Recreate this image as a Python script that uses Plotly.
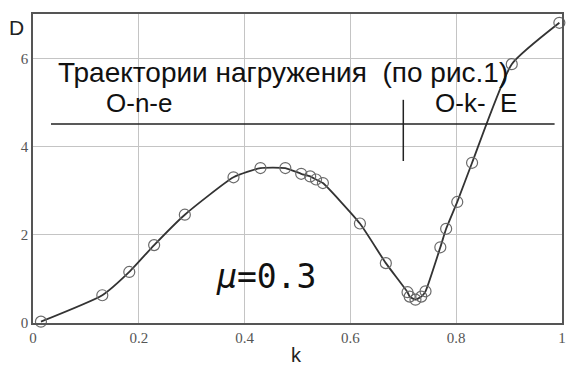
import plotly.graph_objects as go

k_vals = [0.015, 0.131, 0.182, 0.229, 0.287, 0.379, 0.430, 0.477, 0.507, 0.524, 0.535, 0.548,
          0.618, 0.667, 0.708, 0.712, 0.723, 0.734, 0.742, 0.770, 0.781, 0.802, 0.830, 0.905, 0.995]
D_vals = [0.03, 0.63, 1.16, 1.77, 2.46, 3.31, 3.52, 3.52, 3.39, 3.33, 3.26, 3.18,
          2.26, 1.36, 0.70, 0.60, 0.53, 0.60, 0.72, 1.72, 2.14, 2.75, 3.64, 5.88, 6.82]

x_ticks = [0, 0.2, 0.4, 0.6, 0.8, 1]
x_tick_labels = ["0", "0.2", "0.4", "0.6", "0.8", "1"]
y_ticks = [0, 2, 4, 6]
y_tick_labels = ["0", "2", "4", "6"]

title_text = "Траектории нагружения  (по рис.1)"
left_label = "O-n-e"
right_label = "O-k-  E"
mu_label = "<i>μ</i>=0.3"

fig = go.Figure()
fig.add_trace(go.Scatter(
    x=k_vals, y=D_vals, mode="lines+markers",
    line=dict(color="#333333", width=1.8, shape="spline", smoothing=0.5),
    marker=dict(symbol="circle-open", size=11, color="#6a6a6a", line=dict(width=1.2)),
    showlegend=False, cliponaxis=False,
))

# trajectory divider line and tick
fig.add_shape(type="line", x0=0.034, x1=0.986, y0=4.52, y1=4.52,
              line=dict(color="#222222", width=1.5), layer="above")
fig.add_shape(type="line", x0=0.70, x1=0.70, y0=3.68, y1=5.07,
              line=dict(color="#222222", width=1.5), layer="above")

fig.add_annotation(x=0.473, y=5.70, text=title_text, showarrow=False,
                   font=dict(family="Liberation Sans, Arial", size=28, color="#111111"))
fig.add_annotation(x=0.20, y=5.0, text=left_label, showarrow=False,
                   font=dict(family="Liberation Sans, Arial", size=26, color="#111111"))
fig.add_annotation(x=0.838, y=5.0, text=right_label, showarrow=False,
                   font=dict(family="Liberation Sans, Arial", size=26, color="#111111"))
fig.add_annotation(x=0.441, y=1.05, text=mu_label, showarrow=False,
                   font=dict(family="DejaVu Sans Mono", size=33, color="#111111"))

fig.add_annotation(xref="paper", yref="paper", x=-0.032, y=0.955, text="D", showarrow=False,
                   xanchor="center", yanchor="middle",
                   font=dict(family="Liberation Sans, Arial", size=21, color="#222222"))
fig.add_annotation(xref="paper", yref="paper", x=0.498, y=-0.105, text="k", showarrow=False,
                   xanchor="center", yanchor="middle",
                   font=dict(family="Liberation Sans, Arial", size=20, color="#222222"))

fig.update_xaxes(range=[0, 1], tickvals=x_ticks, ticktext=x_tick_labels,
                 showgrid=True, gridcolor="#c4c4c4", gridwidth=1,
                 showline=True, linecolor="#555555", linewidth=1.5, mirror=True,
                 zeroline=False, ticks="", ticklen=0,
                 tickfont=dict(family="Liberation Serif", size=15, color="#555555"))
fig.update_yaxes(range=[0, 7.02], tickvals=y_ticks, ticktext=y_tick_labels,
                 showgrid=True, gridcolor="#c4c4c4", gridwidth=1,
                 showline=True, linecolor="#555555", linewidth=1.5, mirror=True,
                 zeroline=False, ticks="", ticklen=0,
                 tickfont=dict(family="Liberation Serif", size=15, color="#555555"))

fig.update_layout(width=573, height=367, margin=dict(l=33, r=7, t=14, b=44),
                  plot_bgcolor="white", paper_bgcolor="white")

fig.write_html("out.html")
